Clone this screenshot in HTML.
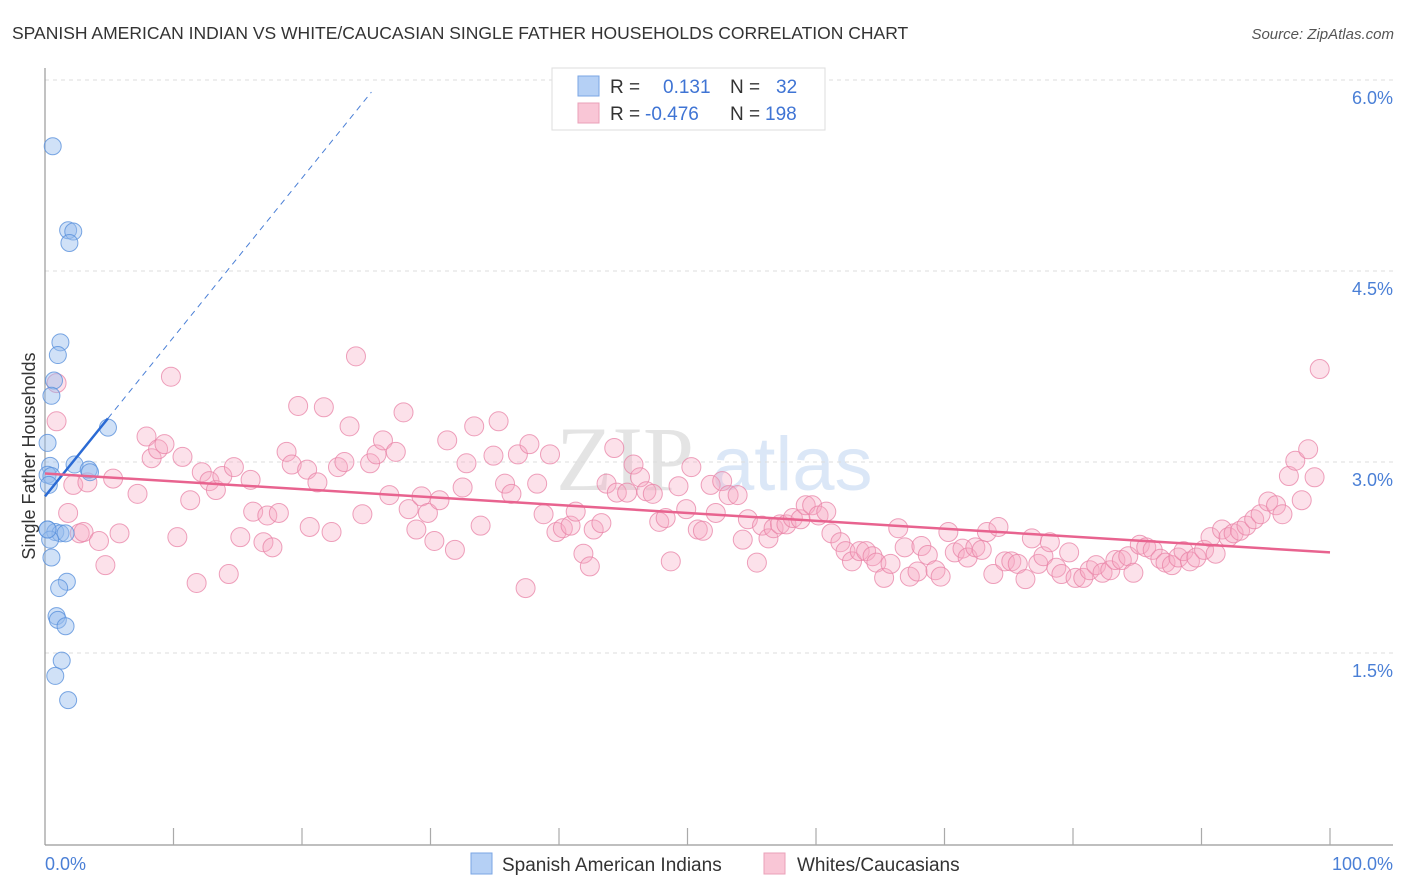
<!DOCTYPE html>
<html><head><meta charset="utf-8"><style>
body{margin:0;background:#fff;font-family:"Liberation Sans",sans-serif;}
svg{display:block}
</style></head><body>
<svg id="chart" width="1406" height="892" xmlns="http://www.w3.org/2000/svg">
<text x="12" y="39" font-size="17.5" fill="#333" font-family="Liberation Sans">SPANISH AMERICAN INDIAN VS WHITE/CAUCASIAN SINGLE FATHER HOUSEHOLDS CORRELATION CHART</text>
<text x="1394" y="39" font-size="15" fill="#555" font-style="italic" text-anchor="end">Source: ZipAtlas.com</text>
<g>
<text x="556" y="490" font-size="92" fill="#e4e4e4" font-family="Liberation Serif">ZIP</text>
<text x="712" y="490" font-size="76" fill="#dbe7f7">atlas</text>
</g>
<g id="grid"></g>
<line x1="45" y1="68" x2="45" y2="845" stroke="#999" stroke-width="1.2"/>
<line x1="45" y1="845" x2="1393" y2="845" stroke="#999" stroke-width="1.2"/>
<g id="xticks"></g>
<g id="pink"></g>
<g id="blue"></g>
<g id="lines"></g>
<text transform="translate(35,456) rotate(-90)" text-anchor="middle" font-size="18" fill="#333">Single Father Households</text>
<text x="45" y="870" font-size="18" fill="#4a7fd6">0.0%</text>
<text x="1393" y="870" font-size="18" fill="#4a7fd6" text-anchor="end">100.0%</text>
<g>
<rect x="552" y="68" width="273" height="62" fill="#fff" stroke="#ddd"/>
<rect x="578" y="76" width="21" height="20" fill="#b5d0f5" stroke="#7aa6e4"/>
<text x="610" y="93" font-size="19" fill="#333">R =</text>
<text x="663" y="93" font-size="19" fill="#3f74d4">0.131</text>
<text x="730" y="93" font-size="19" fill="#333">N =</text>
<text x="776" y="93" font-size="19" fill="#3f74d4">32</text>
<rect x="578" y="103" width="21" height="20" fill="#f9c6d6" stroke="#eaa0b8"/>
<text x="610" y="120" font-size="19" fill="#333">R =</text>
<text x="645" y="120" font-size="19" fill="#3f74d4">-0.476</text>
<text x="730" y="120" font-size="19" fill="#333">N =</text>
<text x="765" y="120" font-size="19" fill="#3f74d4">198</text>
</g>
<g>
<rect x="471" y="853" width="21" height="21" fill="#b5d0f5" stroke="#7aa6e4"/>
<text x="502" y="871" font-size="19" fill="#333">Spanish American Indians</text>
<rect x="764" y="853" width="21" height="21" fill="#f9c6d6" stroke="#eaa0b8"/>
<text x="797" y="871" font-size="19" fill="#333">Whites/Caucasians</text>
</g>
</svg>
<script>
const yTicks=[1.5,3.0,4.5,6.0];
const yTickLabels=["1.5%","3.0%","4.5%","6.0%"];
const xTicks=[10,20,30,40,50,60,70,80,90,100];
const pinkX=[0.9,0.9,1.8,2.2,2.7,3.0,3.3,4.2,4.7,5.3,5.8,7.2,7.9,8.3,8.8,9.3,9.8,10.3,10.7,11.3,11.8,12.2,12.8,13.3,13.8,14.3,14.7,15.2,16.0,16.2,17.0,17.3,17.7,18.2,18.8,19.2,19.7,20.4,20.6,21.2,21.7,22.3,22.8,23.3,23.7,24.2,24.7,25.3,25.8,26.3,26.8,27.3,27.9,28.3,28.9,29.3,29.8,30.3,30.7,31.3,31.9,32.5,32.8,33.4,33.9,34.9,35.3,35.8,36.3,36.8,37.4,37.7,38.3,38.8,39.3,39.8,40.3,40.9,41.3,41.9,42.4,42.7,43.3,43.7,44.3,44.5,45.3,45.8,46.3,46.8,47.3,47.8,48.3,48.7,49.3,49.9,50.3,50.8,51.2,51.8,52.2,52.7,53.2,53.9,54.3,54.7,55.4,55.8,56.3,56.7,57.2,57.7,58.2,58.8,59.2,59.7,60.2,60.8,61.2,61.9,62.3,62.8,63.4,63.9,64.4,64.7,65.3,65.8,66.4,66.9,67.3,67.9,68.2,68.7,69.3,69.7,70.3,70.8,71.4,71.8,72.4,72.9,73.3,73.8,74.2,74.7,75.2,75.7,76.3,76.8,77.3,77.7,78.2,78.7,79.1,79.7,80.2,80.8,81.3,81.8,82.3,82.9,83.3,83.8,84.3,84.7,85.2,85.7,86.2,86.8,87.2,87.7,88.2,88.6,89.1,89.6,90.2,90.7,91.1,91.6,92.1,92.5,93.0,93.5,94.1,94.6,95.2,95.8,96.3,96.8,97.3,97.8,98.3,98.8,99.2];
const pinkY=[3.62,3.32,2.60,2.82,2.44,2.45,2.84,2.38,2.19,2.87,2.44,2.75,3.20,3.03,3.10,3.14,3.67,2.41,3.04,2.70,2.05,2.92,2.85,2.78,2.89,2.12,2.96,2.41,2.86,2.61,2.37,2.58,2.33,2.60,3.08,2.98,3.44,2.94,2.49,2.84,3.43,2.45,2.96,3.00,3.28,3.83,2.59,2.99,3.06,3.17,2.74,3.08,3.39,2.63,2.47,2.73,2.60,2.38,2.70,3.17,2.31,2.80,2.99,3.28,2.50,3.05,3.32,2.83,2.75,3.06,2.01,3.14,2.83,2.59,3.06,2.45,2.48,2.50,2.61,2.28,2.18,2.47,2.52,2.83,3.11,2.76,2.76,2.98,2.88,2.77,2.75,2.53,2.56,2.22,2.81,2.63,2.96,2.47,2.46,2.82,2.60,2.85,2.74,2.74,2.39,2.55,2.21,2.50,2.40,2.48,2.51,2.51,2.56,2.55,2.66,2.66,2.58,2.61,2.44,2.37,2.30,2.22,2.30,2.30,2.26,2.21,2.09,2.20,2.48,2.33,2.10,2.14,2.34,2.27,2.15,2.10,2.45,2.29,2.32,2.25,2.33,2.31,2.45,2.12,2.49,2.22,2.22,2.20,2.08,2.40,2.20,2.26,2.37,2.17,2.12,2.29,2.09,2.09,2.15,2.19,2.13,2.15,2.23,2.23,2.26,2.13,2.35,2.33,2.31,2.24,2.21,2.19,2.25,2.30,2.22,2.25,2.31,2.41,2.28,2.47,2.41,2.44,2.46,2.50,2.55,2.59,2.69,2.66,2.59,2.89,3.01,2.70,3.10,2.88,3.73];
const blueX=[0.6,1.8,2.2,1.9,1.2,1.0,0.7,0.5,0.2,0.4,0.2,0.5,0.3,2.3,3.4,3.5,4.9,0.2,0.8,1.2,1.6,0.4,0.5,1.7,1.1,0.9,1.0,1.6,1.3,0.8,1.8,0.2];
const blueY=[5.48,4.82,4.81,4.72,3.94,3.84,3.64,3.52,3.15,2.97,2.90,2.89,2.82,2.98,2.94,2.92,3.27,2.47,2.45,2.44,2.44,2.39,2.25,2.06,2.01,1.79,1.76,1.71,1.44,1.32,1.13,2.47];
const pinkTrend=[2.91,2.29];
const blueTrend=[2.73,0.125];
const blueSolidEnd=4.9, blueDashEnd=25.4;

const NS="http://www.w3.org/2000/svg";
const sx=v=>45+v*12.85;
const sy=v=>844-v*127.33;
function mk(tag,attrs,parent){const e=document.createElementNS(NS,tag);for(const k in attrs)e.setAttribute(k,attrs[k]);parent.appendChild(e);return e;}
const grid=document.getElementById('grid');
yTicks.forEach((t,i)=>{
  const l=mk('line',{x1:45,x2:1393,y1:sy(t),y2:sy(t),stroke:'#ddd','stroke-dasharray':'4,4'},grid);
  
  
  const tx=mk('text',{x:1393,y:sy(t)+24,'font-size':18,fill:'#4a7fd6','text-anchor':'end'},grid);
  tx.textContent=yTickLabels[i];
  
  
});
const xt=document.getElementById('xticks');
xTicks.forEach(t=>{
  const l=mk('line',{x1:sx(t),x2:sx(t),y1:828,y2:845,stroke:'#aaa','stroke-width':1.2},xt);
  
  
});
const pg=document.getElementById('pink');
pinkX.forEach((x,i)=>{
  const c=mk('circle',{cx:sx(x),cy:sy(pinkY[i]),r:9.5,fill:'rgba(246,170,196,0.35)',stroke:'rgba(232,130,165,0.75)','stroke-width':1},pg);
  
  
});
const bg=document.getElementById('blue');
blueX.forEach((x,i)=>{
  const c=mk('circle',{cx:sx(x),cy:sy(blueY[i]),r:8.5,fill:'rgba(150,188,238,0.45)',stroke:'rgba(90,145,220,0.8)','stroke-width':1},bg);
  
  
});
const lg=document.getElementById('lines');
const bt=x=>blueTrend[0]+blueTrend[1]*x;
const d=mk('line',{x1:sx(blueSolidEnd),y1:sy(bt(blueSolidEnd)),x2:sx(blueDashEnd),y2:sy(bt(blueDashEnd)),stroke:'#4a7fd6','stroke-width':1,'stroke-dasharray':'6,5'},lg);


const s=mk('line',{x1:sx(0),y1:sy(bt(0)),x2:sx(blueSolidEnd),y2:sy(bt(blueSolidEnd)),stroke:'#2a6ad4','stroke-width':2.5},lg);


const p=mk('line',{x1:sx(0),y1:sy(pinkTrend[0]),x2:sx(100),y2:sy(pinkTrend[1]),stroke:'#e8638f','stroke-width':2.5},lg);


</script>
</body></html>
